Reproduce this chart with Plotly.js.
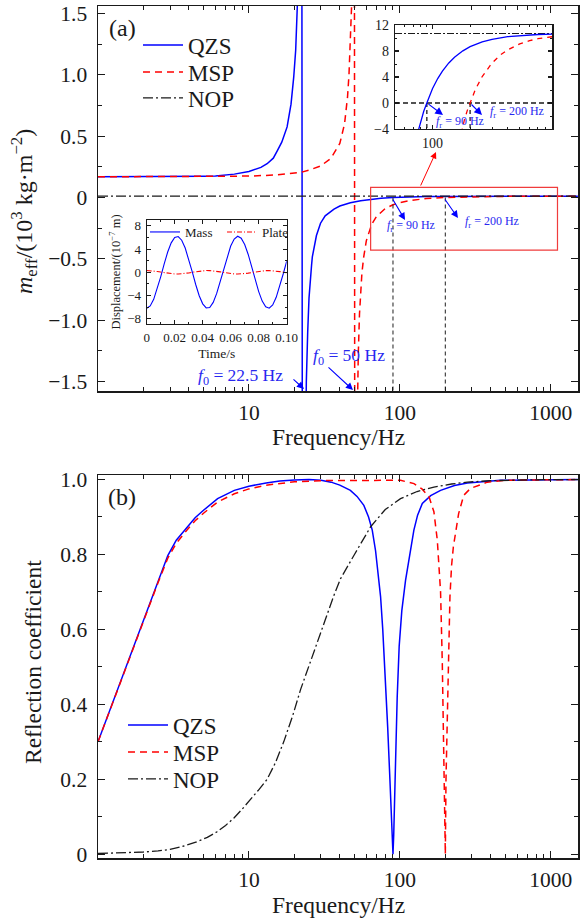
<!DOCTYPE html>
<html><head><meta charset="utf-8">
<script src="https://cdn.plot.ly/plotly-3.0.1.min.js"></script>
<style>html,body{margin:0;padding:0;background:#fff;}</style>
</head><body><div id="chart" style="width:586px;height:919px;"></div>
<script>
// ---------- (a) effective mass, 10^3 kg/m^2 ----------
const qzsMeffFreq = [1, 2, 3, 4, 5, 6, 8, 10, 12, 13.2, 14.5, 15.4, 16.5, 17.9, 19, 19.8, 20.4, 20.9, 21.3, 21.8, 22.2,
  22.8, 23.2, 23.6, 24, 24.5, 25, 26, 26.3, 28, 29.8, 32, 36.6, 40, 47, 55, 65, 75, 90, 100, 120, 150, 200, 300, 500, 1000, 1510];
const qzsMeff = [0.168, 0.168, 0.169, 0.171, 0.173, 0.175, 0.19, 0.212, 0.245, 0.275, 0.32, 0.38, 0.45, 0.575, 0.76, 0.98, 1.2, 1.55, 2.0, 3.2, 8,
  -8, -3.5, -2.2, -1.5, -1.1, -0.82, -0.55, -0.484, -0.31, -0.21, -0.15, -0.095, -0.07, -0.044, -0.027, -0.014, -0.006, 0, 0.002, 0.0048, 0.007, 0.0086, 0.0097, 0.0103, 0.0106, 0.0107];
const mspMeffFreq = [1, 5, 10, 15, 20, 22, 25, 30, 35, 40, 43, 45, 46, 47, 48, 49, 49.7,
  50.5, 51, 52, 53, 54, 56, 57.5, 60, 65, 70, 80, 90, 100, 120, 150, 200, 300, 500, 1000, 1510];
const mspMeff = [0.168, 0.169, 0.174, 0.183, 0.197, 0.204, 0.222, 0.258, 0.32, 0.44, 0.6, 0.82, 1.0, 1.25, 1.6, 2.6, 8,
  -8, -3.9, -1.95, -1.28, -0.95, -0.62, -0.49, -0.35, -0.22, -0.155, -0.09, -0.06, -0.042, -0.023, -0.009, 0, 0.006, 0.009, 0.0102, 0.0104];
const nopMeffFreq = [1, 1510];
const nopMeff = [0.0107, 0.0107];
const resonanceFreq = [90, 200];          // f_r of QZS and MSP

// ---------- inset: effective mass near f_r, kg/m^2 ----------
const qzsInsetFreq = [60, 70, 76, 80, 85, 90, 95, 100, 110, 120, 135, 150, 175, 200, 250, 300, 400, 500, 700, 1000];
const qzsInset = [-15.3, -7.6, -4.6, -2.96, -1.28, 0, 1.25, 2.22, 3.76, 4.91, 6.16, 7.04, 8.03, 8.66, 9.4, 9.8, 10.2, 10.38, 10.54, 10.62];
const mspInsetFreq = [150, 170, 180, 190, 200, 220, 250, 300, 350, 400, 500, 600, 700, 800, 1000];
const mspInset = [-9.2, -4.36, -2.6, -1.13, 0, 2.04, 4.07, 6.16, 7.39, 8.18, 9.09, 9.59, 9.89, 10.08, 10.3];
const nopInsetFreq = [50, 1000];
const nopInset = [10.7, 10.7];

// ---------- inset: displacement vs time ----------
const timeS = [0, 0.0025, 0.005, 0.0075, 0.01, 0.0125, 0.015, 0.0175, 0.02, 0.0225, 0.025, 0.0275, 0.03, 0.0325, 0.035, 0.0375, 0.04, 0.0425, 0.045, 0.0475, 0.05,
  0.0525, 0.055, 0.0575, 0.06, 0.0625, 0.065, 0.0675, 0.07, 0.0725, 0.075, 0.0775, 0.08, 0.0825, 0.085, 0.0875, 0.09, 0.0925, 0.095, 0.0975, 0.1];
const massDisp = [-6.2, -5.8, -4.65, -2.9, -0.78, 1.45, 3.49, 5.07, 6.01, 6.16, 5.52, 4.17, 2.28, 0.1, -2.1, -4.03, -5.43, -6.14, -6.05, -5.18, -3.64,
  -1.64, 0.58, 2.73, 4.52, 5.73, 6.2, 5.87, 4.78, 3.07, 0.97, -1.26, -3.32, -4.96, -5.95, -6.18, -5.61, -4.31, -2.46, -0.29, 1.92];
const plateDisp = [0.3, 0.28, 0.23, 0.14, 0.04, -0.07, -0.17, -0.25, -0.29, -0.3, -0.27, -0.2, -0.11, 0, 0.1, 0.19, 0.26, 0.3, 0.29, 0.25, 0.18,
  0.08, -0.03, -0.13, -0.22, -0.28, -0.3, -0.28, -0.23, -0.15, -0.05, 0.06, 0.16, 0.24, 0.29, 0.3, 0.27, 0.21, 0.12, 0.01, -0.09];

// ---------- (b) reflection coefficient ----------
const qzsReflFreq = [1, 1.2, 1.5, 1.7, 2, 2.5, 2.9, 3.3, 3.9, 4.4, 5, 6.2, 8, 10, 13, 16, 20, 25, 30, 35, 40, 47, 52, 57.7, 62, 65.6, 69, 72.6, 74.5, 77, 80.4, 83, 85.9, 88, 89.5, 90,
  91, 92, 93.7, 96, 98.9, 103, 109, 118, 123.8, 131, 140.8, 160, 186, 230, 280, 464, 1000, 1510];
const qzsRefl = [0.3, 0.385, 0.488, 0.545, 0.622, 0.728, 0.797, 0.838, 0.874, 0.898, 0.918, 0.949, 0.971, 0.982, 0.991, 0.996, 0.999, 1.0, 0.998, 0.993, 0.985, 0.971, 0.955, 0.931, 0.9, 0.865, 0.81, 0.731, 0.687, 0.6, 0.465, 0.34, 0.199, 0.09, 0.01, 0,
  0.05, 0.12, 0.287, 0.42, 0.554, 0.65, 0.731, 0.81, 0.865, 0.905, 0.936, 0.957, 0.971, 0.984, 0.991, 0.998, 1.0, 1.0];
const mspReflFreq = [1, 1.2, 1.5, 1.7, 2, 2.5, 2.9, 3.3, 3.9, 4.4, 5, 6.2, 8, 10, 13, 16, 20, 30, 50, 80, 101, 124, 140, 156, 168, 177, 182, 186, 191, 195, 198, 200,
  202, 205, 208, 214.6, 220, 226, 245, 265, 293, 379, 500, 1000, 1510];
const mspRefl = [0.3, 0.385, 0.488, 0.545, 0.62, 0.725, 0.79, 0.83, 0.866, 0.89, 0.91, 0.94, 0.962, 0.975, 0.985, 0.99, 0.994, 0.997, 0.998, 0.999, 0.998, 0.989, 0.975, 0.954, 0.914, 0.838, 0.76, 0.7, 0.509, 0.287, 0.06, 0,
  0.198, 0.33, 0.465, 0.687, 0.77, 0.82, 0.909, 0.958, 0.976, 0.993, 0.998, 1.0, 1.0];
const nopReflFreq = [1, 1.5, 2, 2.5, 3, 3.7, 4.5, 5.3, 6.15, 7, 7.93, 9, 10.2, 11.5, 13.2, 15, 17, 19.5, 22, 25, 28.3, 32, 36.5, 40.4, 50, 64, 80, 101, 130, 168, 220, 280, 400, 600, 1000, 1510];
const nopRefl = [0.002, 0.004, 0.006, 0.009, 0.013, 0.022, 0.033, 0.045, 0.06, 0.077, 0.096, 0.12, 0.145, 0.17, 0.2, 0.245, 0.3, 0.37, 0.44, 0.505, 0.565, 0.625, 0.69, 0.735, 0.8, 0.874, 0.92, 0.949, 0.968, 0.98, 0.988, 0.993, 0.997, 0.999, 1.0, 1.0];

// ---------- tick labels ----------
const freqTickVals = [10, 100, 1000];
const freqTickText = ['10', '100', '1000'];
const freqMinor = [2, 3, 4, 5, 6, 7, 8, 9, 20, 30, 40, 50, 60, 70, 80, 90, 200, 300, 400, 500, 600, 700, 800, 900];
const meffTickVals = [-1.5, -1, -0.5, 0, 0.5, 1, 1.5];
const meffTickText = ['\u22121.5', '\u22121.0', '\u22120.5', '0', '0.5', '1.0', '1.5'];
const reflTickVals = [0, 0.2, 0.4, 0.6, 0.8, 1.0];
const reflTickText = ['0', '0.2', '0.4', '0.6', '0.8', '1.0'];
const timeTickVals = [0, 0.02, 0.04, 0.06, 0.08, 0.1];
const timeTickText = ['0', '0.02', '0.04', '0.06', '0.08', '0.10'];
const dispTickVals = [-8, -4, 0, 4, 8];
const dispTickText = ['\u22128', '\u22124', '0', '4', '8'];
const insetTickVals = [-4, 0, 4, 8, 12];
const insetTickText = ['\u22124', '0', '4', '8', '12'];

// ---------- styling ----------
const FONT = 'Liberation Serif, Tinos, Times New Roman, DejaVu Serif, serif';
const INK = '#1a1a1a';
const BLUE = '#0000ff';
const RED = '#ff0000';
const TXTBLUE = 'rgb(40,40,240)';
const px = x => (x - 98) / 480;
const py = y => (858 - y) / 852;

function baseAxis(extra) {
  return Object.assign({
    ticks: 'inside', ticklen: 7, tickwidth: 1.1, tickcolor: INK,
    mirror: 'allticks', showline: true, linecolor: INK, linewidth: 1.5,
    showgrid: false, zeroline: false, fixedrange: true,
    tickfont: {family: FONT, size: 21.5, color: INK}, ticklabelstandoff: 5
  }, extra);
}
function minorOf(vals, len) {
  return {tickmode: 'array', tickvals: vals, ticks: 'inside', ticklen: len, tickwidth: 1, tickcolor: INK, showgrid: false};
}

// vertical marker lines at the resonance (zero-crossing) frequencies
function vlines(freqs, y0, y1) {
  const xs = [], ys = [];
  freqs.forEach(f => { xs.push(f, f, null); ys.push(y0, y1, null); });
  return {xs, ys};
}
const vMain = vlines(resonanceFreq, 0, -1.578);
const vInset = vlines(resonanceFreq, 0, -4);

const QZS_LINE = {color: BLUE, width: 1.5};
const MSP_LINE = {color: RED, width: 1.5, dash: '7px,5px'};
const NOP_LINE = {color: INK, width: 1.3, dash: '10px,3px,2px,3px'};

const traces = [
  {x: qzsMeffFreq, y: qzsMeff, xaxis: 'x', yaxis: 'y', mode: 'lines', name: 'QZS', legend: 'legend', line: QZS_LINE},
  {x: mspMeffFreq, y: mspMeff, xaxis: 'x', yaxis: 'y', mode: 'lines', name: 'MSP', legend: 'legend4', line: MSP_LINE},
  {x: nopMeffFreq, y: nopMeff, xaxis: 'x', yaxis: 'y', mode: 'lines', name: 'NOP', legend: 'legend5', line: NOP_LINE},
  {x: vMain.xs, y: vMain.ys, xaxis: 'x', yaxis: 'y', mode: 'lines', showlegend: false, line: {color: '#333', width: 1.1, dash: '4px,3px'}},

  {x: timeS, y: massDisp, xaxis: 'x3', yaxis: 'y3', mode: 'lines', name: 'Mass', legend: 'legend2', line: {color: BLUE, width: 1.1}},
  {x: timeS, y: plateDisp, xaxis: 'x3', yaxis: 'y3', mode: 'lines', name: 'Plate', legend: 'legend2', line: {color: RED, width: 1.1, dash: '5px,2px,1px,2px'}},

  {x: nopInsetFreq, y: nopInset, xaxis: 'x4', yaxis: 'y4', mode: 'lines', showlegend: false, line: {color: INK, width: 1.1, dash: '7px,2px,2px,2px'}},
  {x: nopInsetFreq, y: [0, 0], xaxis: 'x4', yaxis: 'y4', mode: 'lines', showlegend: false, line: {color: INK, width: 1.3, dash: '5px,3px'}},
  {x: vInset.xs, y: vInset.ys, xaxis: 'x4', yaxis: 'y4', mode: 'lines', showlegend: false, line: {color: INK, width: 1.3, dash: '4px,3px'}},
  {x: qzsInsetFreq, y: qzsInset, xaxis: 'x4', yaxis: 'y4', mode: 'lines', showlegend: false, line: {color: BLUE, width: 1.3}},
  {x: mspInsetFreq, y: mspInset, xaxis: 'x4', yaxis: 'y4', mode: 'lines', showlegend: false, line: {color: RED, width: 1.3, dash: '5px,5px'}},

  {x: qzsReflFreq, y: qzsRefl, xaxis: 'x2', yaxis: 'y2', mode: 'lines', name: 'QZS', legend: 'legend3', line: QZS_LINE},
  {x: mspReflFreq, y: mspRefl, xaxis: 'x2', yaxis: 'y2', mode: 'lines', name: 'MSP', legend: 'legend6', line: MSP_LINE},
  {x: nopReflFreq, y: nopRefl, xaxis: 'x2', yaxis: 'y2', mode: 'lines', name: 'NOP', legend: 'legend7', line: NOP_LINE}
];

function arrow(tailX, tailY, headX, headY, color, width) {
  return {xref: 'paper', yref: 'paper', x: px(headX), y: py(headY), axref: 'pixel', ayref: 'pixel',
    ax: tailX - headX, ay: tailY - headY, text: '', showarrow: true, arrowhead: 2, arrowsize: 1.3,
    arrowwidth: width, arrowcolor: color, standoff: 0, startstandoff: 0};
}
function label(text, cx, cy, size, color, angle) {
  return {xref: 'paper', yref: 'paper', x: px(cx), y: py(cy), xanchor: 'center', yanchor: 'middle',
    text, showarrow: false, textangle: angle || 0, font: {family: FONT, size, color: color || INK}};
}

const annotations = [
  label('(a)', 122, 28, 24),
  label('(b)', 122, 497, 24),
  label('Frequency/Hz', 338, 437, 23.5),
  label('Frequency/Hz', 338, 905, 23.5),
  label('<i>m</i><sub>eff</sub>/(10<sup>3</sup> kg\u00b7m<sup>\u22122</sup>)', 24, 212, 24, INK, -90),
  label('Reflection coefficient', 33, 662, 23.5, INK, -90),
  label('<i>f</i><sub>0</sub> = 22.5 Hz', 240, 376, 17.5, TXTBLUE),
  label('<i>f</i><sub>0</sub> = 50 Hz', 349, 356, 17.5, TXTBLUE),
  label('<i>f</i><sub>r</sub> = 90 Hz', 411, 226, 12, TXTBLUE),
  label('<i>f</i><sub>r</sub> = 200 Hz', 492, 222, 12, TXTBLUE),
  label('<i>f</i><sub>r</sub> = 90 Hz', 460, 122, 12, TXTBLUE),
  label('<i>f</i><sub>r</sub> = 200 Hz', 517, 112, 12, TXTBLUE),
  arrow(292, 378, 304, 389, BLUE, 1.1),
  arrow(327, 366, 353, 390, BLUE, 1.1),
  arrow(392, 198, 405, 220, BLUE, 1.1),
  arrow(444, 198, 458, 218, BLUE, 1.1),
  arrow(427, 103, 443, 115, BLUE, 1.2),
  arrow(470, 103, 482, 115, BLUE, 1.2),
  arrow(420, 187, 436, 152, RED, 1)
];

function rowLegend(xPix, yPix) {
  return {x: px(xPix), y: py(yPix), xanchor: 'left', yanchor: 'middle', bgcolor: 'rgba(0,0,0,0)',
    font: {family: FONT, size: 23, color: INK}, itemwidth: 40};
}

const layout = {
  width: 586, height: 919, margin: {l: 98, r: 8, t: 6, b: 61},
  paper_bgcolor: '#ffffff', plot_bgcolor: '#ffffff',
  font: {family: FONT, color: INK, size: 19},
  xaxis: baseAxis({type: 'log', range: [0, 3.18], domain: [0, 1], anchor: 'y', ticklabelstandoff: 2,
    tickmode: 'array', tickvals: freqTickVals, ticktext: freqTickText, minor: minorOf(freqMinor, 4)}),
  yaxis: baseAxis({range: [-1.578, 1.56], domain: [0.548, 1], anchor: 'x',
    tickmode: 'array', tickvals: meffTickVals, ticktext: meffTickText,
    minor: minorOf([-1.25, -0.75, -0.25, 0.25, 0.75, 1.25], 4)}),
  xaxis2: baseAxis({type: 'log', range: [0, 3.18], domain: [0, 1], anchor: 'y2', ticklabelstandoff: 2,
    tickmode: 'array', tickvals: freqTickVals, ticktext: freqTickText, minor: minorOf(freqMinor, 4)}),
  yaxis2: baseAxis({range: [-0.01, 1.012], domain: [0, 0.4495], anchor: 'x2',
    tickmode: 'array', tickvals: reflTickVals, ticktext: reflTickText,
    minor: minorOf([0.1, 0.3, 0.5, 0.7, 0.9], 4)}),
  xaxis3: baseAxis({range: [0, 0.1], domain: [px(146.7), px(286.7)], anchor: 'y3', ticklen: 4, linewidth: 1,
    tickmode: 'array', tickvals: timeTickVals, ticktext: timeTickText, ticklabelstandoff: 1,
    tickfont: {family: FONT, size: 13, color: INK},
    minor: minorOf([0.01, 0.03, 0.05, 0.07, 0.09], 2),
    title: {text: 'Time/s', font: {family: FONT, size: 13.5, color: INK}, standoff: 4}}),
  yaxis3: baseAxis({range: [-8.9, 9.0], domain: [py(324), py(220)], anchor: 'x3', ticklen: 4, linewidth: 1,
    tickmode: 'array', tickvals: dispTickVals, ticktext: dispTickText, ticklabelstandoff: 2,
    tickfont: {family: FONT, size: 13, color: INK},
    minor: minorOf([-6, -2, 2, 6], 2),
    title: {text: 'Displacement/(10<sup>\u22127</sup> m)', font: {family: FONT, size: 12.5, color: INK}, standoff: 3}}),
  xaxis4: baseAxis({type: 'log', range: [1.699, 2.96], domain: [px(395), px(552.3)], anchor: 'y4', ticklen: 4, linewidth: 1.3,
    tickmode: 'array', tickvals: [100], ticktext: ['100'], ticklabelstandoff: 1,
    tickfont: {family: FONT, size: 14, color: INK},
    minor: minorOf([50, 60, 70, 80, 90, 200, 300, 400, 500, 600, 700, 800, 900], 2)}),
  yaxis4: baseAxis({range: [-4, 12], domain: [py(129), py(25)], anchor: 'x4', ticklen: 4, linewidth: 1.3,
    tickmode: 'array', tickvals: insetTickVals, ticktext: insetTickText, ticklabelstandoff: 2,
    tickfont: {family: FONT, size: 14, color: INK},
    minor: minorOf([-2, 2, 6, 10], 2)}),
  legend: rowLegend(138, 45),
  legend4: rowLegend(138, 72),
  legend5: rowLegend(138, 98),
  legend3: rowLegend(123, 725),
  legend6: rowLegend(123, 752),
  legend7: rowLegend(123, 779),
  legend2: {orientation: 'h', x: px(145), y: py(217), xanchor: 'left', yanchor: 'top', bgcolor: 'rgba(0,0,0,0)',
    font: {family: FONT, size: 13, color: INK}, itemwidth: 30, entrywidth: 32},
  shapes: [{type: 'rect', xref: 'x', yref: 'y', x0: 64, x1: 1107, y0: -0.43, y1: 0.0815,
    line: {color: 'rgb(240,60,60)', width: 1.2}, fillcolor: 'rgba(0,0,0,0)'}],
  annotations
};

Plotly.newPlot('chart', traces, layout, {staticPlot: true, displayModeBar: false});
</script>
</body></html>
